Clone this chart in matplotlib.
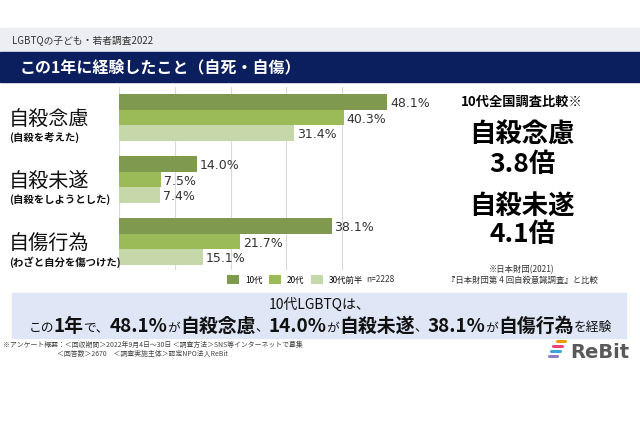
import matplotlib
matplotlib.use('Agg')
import matplotlib.pyplot as plt
import numpy as np
from matplotlib.patches import Rectangle
from matplotlib.lines import Line2D
from matplotlib.transforms import blended_transform_factory
from matplotlib.offsetbox import TextArea, HPacker, AnnotationBbox

plt.rcParams['font.family'] = ['Noto Sans CJK JP', 'DejaVu Sans']

# data
items = ['自殺念慮', '自殺未遂', '自傷行為']
notes = ['(自殺を考えた)', '(自殺をしようとした)', '(わざと自分を傷つけた)']
groups = ['10代', '20代', '30代前半']
teens = [48.1, 14.0, 38.1]
twenties = [40.3, 7.5, 21.7]
thirties = [31.4, 7.4, 15.1]
ratio_items = ['自殺念慮', '自殺未遂']
ratios = [3.8, 4.1]
n_total = 2228

colors = ['#7f9a4e', '#9bbb59', '#c6d7a9']
W, H = 640, 426


def fx(px):
    return px / W


def fy(px):
    return 1 - px / H


fig = plt.figure(figsize=(6.4, 4.26), dpi=100)

# header bands
fig.patches.append(Rectangle((0, fy(52)), 1, 24 / H, transform=fig.transFigure,
                             color='#eceef3', zorder=0))
fig.patches.append(Rectangle((0, fy(82)), 1, 30 / H, transform=fig.transFigure,
                             color='#0b1f5e', zorder=0))
fig.text(fx(12), fy(40), 'LGBTQの子ども・若者調査2022', fontsize=7, color='#333333', va='center')
fig.text(fx(20), fy(67), 'この1年に経験したこと（自死・自傷）', fontsize=11.5,
         fontweight='bold', color='white', va='center')

# bar chart
ax = fig.add_axes([fx(119), fy(270), (398 - 119) / W, 183 / H])
h = 0.252
ys = np.arange(len(items))
series = [teens, twenties, thirties]
bars = []
for k, (vals, c, g) in enumerate(zip(series, colors, groups)):
    pos = ys + (k - 1) * h
    b = ax.barh(pos, vals, height=h, color=c, label=g, zorder=2)
    bars.append(b)
    for p, v in zip(pos, vals):
        ax.text(v + 0.5, p + 0.03, f'{v:.1f}%', va='center', ha='left', fontsize=9,
                family='DejaVu Sans', color='#333333')

ax.set_xlim(0, 50)
ax.set_ylim(2.46, -0.49)
ax.set_xticks(range(0, 51, 10))
ax.set_yticks([])
ax.tick_params(length=0, labelbottom=False)
ax.grid(axis='x', color='#d9d9d9', lw=0.8, zorder=0)
for s in ax.spines.values():
    s.set_visible(False)

tr = blended_transform_factory(fig.transFigure, ax.transData)
for i, (it, nt) in enumerate(zip(items, notes)):
    ax.text(fx(9), i + 0.04, it, transform=tr, fontsize=14.5, va='center', ha='left', color='#111111')
    ax.text(fx(9), i + 0.33, nt, transform=tr, fontsize=7.5, fontweight='bold', va='center',
            ha='left', color='#111111')

leg = ax.legend(handles=bars, loc='center', bbox_to_anchor=(fx(295), fy(280)),
                bbox_transform=fig.transFigure, ncol=3, frameon=False, fontsize=6,
                handlelength=1.45, handleheight=1.2, columnspacing=0.8, handletextpad=0.7)
fig.text(fx(366), fy(280), f'n={n_total}', fontsize=6, va='center', color='#333333')

# right panel
cx = fx(522)
fig.text(cx, fy(102), f'{groups[0]}全国調査比較※', fontsize=9.5, fontweight='bold', ha='center', va='center')
ry = [(135, 165), (207, 235)]
for (y1, y2), it, r in zip(ry, ratio_items, ratios):
    fig.text(cx, fy(y1), it, fontsize=19, fontweight='bold', ha='center', va='center')
    fig.text(cx, fy(y2), f'{r:.1f}倍', fontsize=19, fontweight='bold', ha='center', va='center')
fig.text(cx, fy(270), '※日本財団(2021)', fontsize=6, ha='center', va='center', color='#333333')
fig.text(cx, fy(280), '『日本財団第 4 回自殺意識調査』と比較', fontsize=6, ha='center', va='center', color='#333333')

# summary banner
fig.patches.append(Rectangle((fx(12), fy(338)), (626 - 12) / W, 45 / H, transform=fig.transFigure,
                             color='#dfe6f6', zorder=0))
fig.text(0.5, fy(305), f'{groups[0]}LGBTQは、', fontsize=10, ha='center', va='center', color='#111111')

small = dict(fontsize=9.2, color='#111111')
big = dict(fontsize=13.6, fontweight='bold', color='#111111')
pieces = [('この', small), ('1年', big), ('で、', small)]
for k, (it, v) in enumerate(zip(items, teens)):
    pieces += [(f'{v:.1f}%', big), ('が', small), (it, big)]
    pieces.append(('、', small) if k < len(items) - 1 else ('を経験', small))
pack = HPacker(children=[TextArea(t, textprops=p) for t, p in pieces], align='baseline', pad=0, sep=0)
ab = AnnotationBbox(pack, (0.5, fy(326)), xycoords='figure fraction', frameon=False,
                    box_alignment=(0.5, 0.5))
fig.add_artist(ab)

# footnote
fig.text(fx(3), fy(345), '※アンケート概要：＜回収期間＞2022年9月4日～30日 ＜調査方法＞SNS等インターネットで募集',
         fontsize=4.95, va='center', color='#444444')
fig.text(fx(57), fy(354), '＜回答数＞2670　＜調査実施主体＞認定NPO法人ReBit',
         fontsize=4.95, va='center', color='#444444')

# logo
fig.text(fx(570), fy(352), 'ReBit', fontsize=14, fontweight='bold', family='DejaVu Sans',
         color='#595959', va='center')
for (x0, x1, y), c in zip([(557, 565, 341), (553, 562, 346), (551, 560, 351), (549, 557, 356)],
                          ['#f39800', '#e8457a', '#3ea3dc', '#8e7cc3']):
    fig.add_artist(Line2D([fx(x0), fx(x1)], [fy(y), fy(y)], transform=fig.transFigure,
                          color=c, lw=2.2, solid_capstyle='round'))

fig.savefig('out.png', dpi=100)
